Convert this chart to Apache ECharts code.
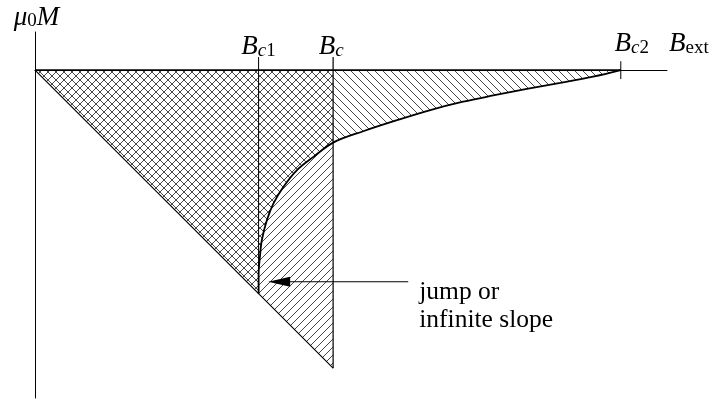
<!DOCTYPE html>
<html>
<head>
<meta charset="utf-8">
<script src="https://cdn.jsdelivr.net/npm/echarts@6/dist/echarts.min.js"></script>
<style>
  html, body { margin: 0; padding: 0; background: #fff; }
  #chart { width: 720px; height: 401px; }
</style>
</head>
<body>
<div id="chart"></div>
<script>
// Critical fields, in units of the thermodynamic field B_c
const B_C1 = 0.75;
const B_C = 1.0;
const B_C2 = 1.965;

// Type-I superconductor: M = -B up to B_c, then drops to zero
const typeOneCurve = [[0, 0], [1.0, -1.0]];

// Type-II superconductor: Meissner line to B_c1, then the mixed state up to B_c2
const typeTwoCurve = [
  [0, 0], [0.75, -0.75], [0.750, -0.688], [0.755, -0.621], [0.761, -0.570],
  [0.778, -0.503], [0.800, -0.447], [0.833, -0.392], [0.878, -0.336],
  [0.934, -0.291], [1.0, -0.243], [1.101, -0.205], [1.214, -0.168],
  [1.326, -0.134], [1.436, -0.106], [1.537, -0.085], [1.650, -0.063],
  [1.762, -0.043], [1.872, -0.022], [1.965, 0]
];

// Field markers along the B axis
const fieldTicks = [B_C1, B_C, B_C2];
const fieldTickLabels = ['{i|B}{si|c}{s|1}', '{i|B}{si|c}', '{i|B}{si|c}{s|2}'];

// Annotation pointing at the onset of flux penetration
const arrowTail = [1.252, -0.71];
const arrowTip = [0.782, -0.71];
const arrowText = ['jump or', 'infinite slope'];

const SERIF = '"Liberation Serif", "DejaVu Serif", serif';
const TICK_UP = 0.044;     // how far the B_c1 / B_c lines rise above the axis
const TICK_SHORT = 0.03;   // half length of the B_c2 tick

const mathRich = {
  i: { fontFamily: SERIF, fontStyle: 'italic', fontSize: 27, lineHeight: 27, verticalAlign: 'bottom', color: '#000' },
  si: { fontFamily: SERIF, fontStyle: 'italic', fontSize: 19, lineHeight: 8, verticalAlign: 'bottom', color: '#000' },
  s: { fontFamily: SERIF, fontSize: 19, lineHeight: 8, verticalAlign: 'bottom', color: '#000' }
};

function hatch(rising) {
  const s = 8;
  const c = document.createElement('canvas');
  c.width = s; c.height = s;
  const g = c.getContext('2d');
  g.strokeStyle = '#333';
  g.lineWidth = 0.9;
  g.beginPath();
  if (rising) {
    g.moveTo(-1, s + 1); g.lineTo(s + 1, -1);
    g.moveTo(-1, 1); g.lineTo(1, -1);
    g.moveTo(s - 1, s + 1); g.lineTo(s + 1, s - 1);
  } else {
    g.moveTo(-1, -1); g.lineTo(s + 1, s + 1);
    g.moveTo(s - 1, -1); g.lineTo(s + 1, 1);
    g.moveTo(-1, s - 1); g.lineTo(1, s + 1);
  }
  g.stroke();
  return c;
}

const chart = echarts.init(document.getElementById('chart'), null, { renderer: 'canvas' });

const labelShift = [0, -2, 11];
const labelLift = [10, 10, 13];

chart.setOption({
  animation: false,
  backgroundColor: '#fff',
  grid: { left: 35, top: 32, right: 53, bottom: 3 },
  xAxis: {
    type: 'value', min: 0, max: 2.12,
    axisLine: { show: true, onZero: true, lineStyle: { color: '#000', width: 1 } },
    axisTick: { show: false }, axisLabel: { show: false }, splitLine: { show: false },
    name: '{i|B}{s|ext}',
    nameLocation: 'end',
    nameGap: 2,
    nameTextStyle: {
      align: 'left', verticalAlign: 'bottom', padding: [0, 0, 13, 0],
      rich: mathRich
    }
  },
  yAxis: {
    type: 'value', min: -1.1, max: 0.128,
    axisLine: { show: true, onZero: false, lineStyle: { color: '#000', width: 1 } },
    axisTick: { show: false }, axisLabel: { show: false }, splitLine: { show: false },
    name: '{i|μ}{s|0}{i|M}',
    nameLocation: 'end',
    nameGap: 1,
    nameTextStyle: {
      align: 'center', verticalAlign: 'bottom', padding: [0, 0, 0, 3],
      rich: mathRich
    }
  },
  series: [
    {
      name: 'type I', type: 'line', data: typeOneCurve,
      showSymbol: false, symbol: 'none',
      lineStyle: { color: '#000', width: 1.2 },
      areaStyle: { color: { image: hatch(true), repeat: 'repeat' }, opacity: 1 },
      z: 2
    },
    {
      name: 'type II', type: 'line', data: typeTwoCurve,
      showSymbol: false, symbol: 'none',
      lineStyle: { width: 0, opacity: 0 },
      areaStyle: { color: { image: hatch(false), repeat: 'repeat' }, opacity: 1 },
      z: 2
    },
    {
      name: 'mixed state', type: 'line', data: typeTwoCurve.slice(1),
      showSymbol: false, symbol: 'none', smooth: 0.35,
      lineStyle: { color: '#000', width: 1.8 },
      z: 4
    },
    {
      name: 'edge', type: 'line', data: [[0, 0], [B_C2, 0]],
      showSymbol: false, symbol: 'none',
      lineStyle: { color: '#000', width: 1.6 },
      z: 4
    },
    {
      name: 'Bc1', type: 'line', data: [[B_C1, TICK_UP], [B_C1, -B_C1]],
      showSymbol: false, symbol: 'none',
      lineStyle: { color: '#000', width: 1 }, z: 3
    },
    {
      name: 'Bc', type: 'line', data: [[B_C, TICK_UP], [B_C, -B_C]],
      showSymbol: false, symbol: 'none',
      lineStyle: { color: '#000', width: 1.2 }, z: 3
    },
    {
      name: 'Bc2', type: 'line', data: [[B_C2, TICK_SHORT], [B_C2, -TICK_SHORT]],
      showSymbol: false, symbol: 'none',
      lineStyle: { color: '#000', width: 1 }, z: 3
    },
    {
      name: 'field labels', type: 'custom',
      data: fieldTicks.map((b, i) => [b, 0, i]),
      renderItem: function (params, api) {
        const i = api.value(2);
        const p = api.coord([api.value(0), api.value(1)]);
        return {
          type: 'text',
          x: p[0] + labelShift[i],
          y: p[1] - labelLift[i],
          style: {
            text: fieldTickLabels[i],
            rich: mathRich,
            align: 'center', textAlign: 'center',
            verticalAlign: 'bottom', textVerticalAlign: 'bottom'
          }
        };
      },
      z: 5
    },
    {
      name: 'annotation', type: 'custom',
      data: [[arrowTail[0], arrowTail[1], arrowTip[0]]],
      renderItem: function (params, api) {
        const tail = api.coord([api.value(0), api.value(1)]);
        const tip = api.coord([api.value(2), api.value(1)]);
        const len = 22, half = 5;
        return {
          type: 'group',
          children: [
            {
              type: 'line',
              shape: { x1: tail[0], y1: tail[1], x2: tip[0] + len - 2, y2: tip[1] },
              style: { stroke: '#000', lineWidth: 1 }
            },
            {
              type: 'polygon',
              shape: { points: [[tip[0], tip[1]], [tip[0] + len, tip[1] - half], [tip[0] + len, tip[1] + half]] },
              style: { fill: '#000' }
            },
            {
              type: 'text',
              x: tail[0] + 11,
              y: tail[1] - 3,
              style: {
                text: arrowText.join('\n'),
                fontFamily: SERIF, fontSize: 25.5, lineHeight: 28, fill: '#000',
                align: 'left', textAlign: 'left',
                verticalAlign: 'top', textVerticalAlign: 'top'
              }
            }
          ]
        };
      },
      z: 5
    }
  ]
});
</script>
</body>
</html>
